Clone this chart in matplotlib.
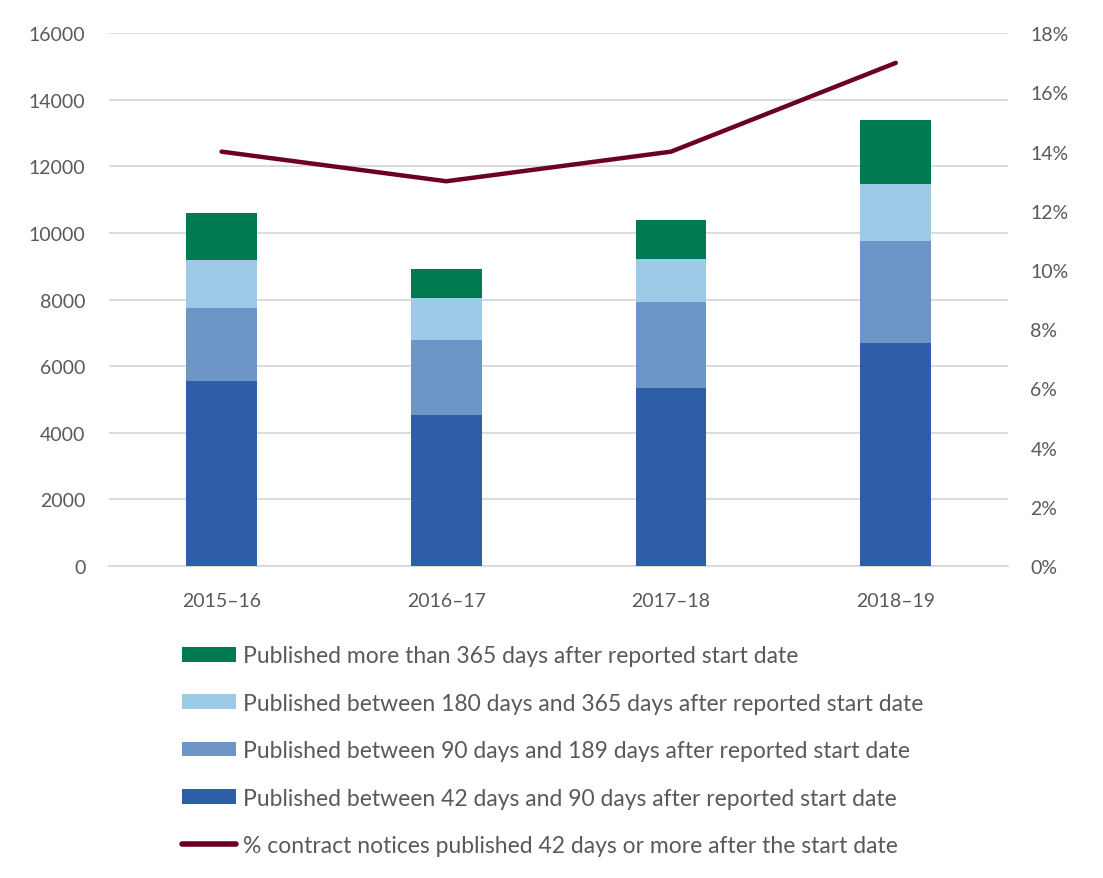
import matplotlib
matplotlib.use('Agg')

import matplotlib.pyplot as plt
from matplotlib.lines import Line2D
from matplotlib.patches import Patch
import numpy as np

plt.rcParams['font.family'] = ['Lato', 'DejaVu Sans']

# ---------------- DATA ----------------
years = ['2015–16', '2016–17', '2017–18', '2018–19']
d42_90 = [5550, 4530, 5340, 6690]
d90_189 = [2200, 2250, 2580, 3060]
d180_365 = [1440, 1260, 1290, 1710]
d365_plus = [1410, 870, 1170, 1950]
pct_late = [14, 13, 14, 17]

labels = [
    'Published between 42 days and 90 days after reported start date',
    'Published between 90 days and 189 days after reported start date',
    'Published between 180 days and 365 days after reported start date',
    'Published more than 365 days after reported start date',
]
line_label = '% contract notices published 42 days or more after the start date'

colors = ['#2E5EA8', '#6D95C8', '#9DCAE6', '#007A50']
line_color = '#6B0020'
text_color = '#595959'
grid_color = '#D9D9D9'

# ---------------- FIGURE ----------------
fig = plt.figure(figsize=(11.03, 8.79), dpi=100, facecolor='white')
ax = fig.add_axes([0.099, 0.355, 0.815, 0.606])
ax2 = ax.twinx()

x = np.arange(len(years))
bottom = np.zeros(len(years))
for vals, col in zip([d42_90, d90_189, d180_365, d365_plus], colors):
    ax.bar(x, vals, width=0.315, bottom=bottom, color=col, zorder=3)
    bottom += np.array(vals)

ax2.plot(x, pct_late, color=line_color, linewidth=3.2, solid_capstyle='round', zorder=4)

# ---------------- AXES ----------------
ax.set_xlim(-0.5, 3.5)
ax.set_ylim(0, 16000)
ax.set_yticks(np.arange(0, 16001, 2000))
ax2.set_ylim(0, 18)
ax2.set_yticks(np.arange(0, 19, 2))
ax2.set_yticklabels([f'{v}%' for v in range(0, 19, 2)])

ax.set_xticks(x)
ax.set_xticklabels(years)

ax.grid(axis='y', color=grid_color, linewidth=1.3, zorder=0)
ax.set_axisbelow(True)
for a in (ax, ax2):
    for s in a.spines.values():
        s.set_visible(False)
    a.tick_params(length=0, labelsize=14, colors=text_color)
ax.spines['bottom'].set_visible(True)
ax.spines['bottom'].set_color(grid_color)
ax.spines['bottom'].set_linewidth(1.3)
ax.tick_params(axis='y', pad=17)
ax.tick_params(axis='x', pad=19)
ax2.tick_params(axis='y', pad=16)

# ---------------- LEGEND ----------------
handles = [Patch(facecolor=c) for c in colors[::-1]]
handles.append(Line2D([0], [0], color=line_color, linewidth=4, solid_capstyle='round'))
fig.legend(handles, labels[::-1] + [line_label],
           loc='upper left', bbox_to_anchor=(0.157, 0.275),
           frameon=False, fontsize=16.5, labelcolor=text_color,
           handlelength=2.35, handleheight=0.6, handletextpad=0.28,
           labelspacing=1.15, borderaxespad=0)

fig.savefig('out.png', dpi=100, facecolor='white')
